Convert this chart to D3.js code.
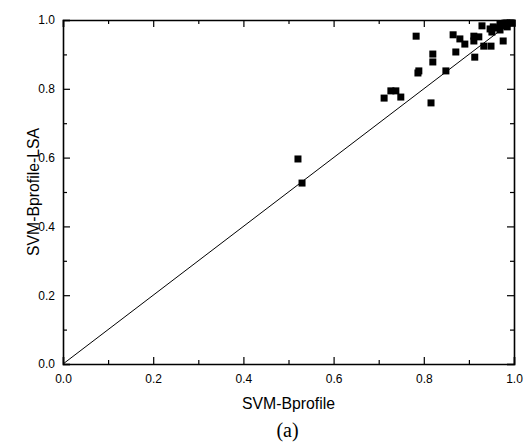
<!DOCTYPE html>
<html>
<head>
<meta charset="utf-8">
<script src="https://cdn.jsdelivr.net/npm/d3@7"></script>
<style>
  body { margin: 0; background: #fff; }
  svg text { font-family: "Liberation Sans", Arial, sans-serif; }
</style>
</head>
<body>
<div id="chart"></div>
<script>
// SVM-Bprofile (x) vs SVM-Bprofile-LSA (y)
const xVals = [0.521, 0.530, 0.712, 0.727, 0.738, 0.749, 0.783, 0.787, 0.789, 0.816,
  0.820, 0.820, 0.849, 0.865, 0.871, 0.880, 0.891, 0.911, 0.911, 0.913,
  0.922, 0.929, 0.933, 0.947, 0.949, 0.951, 0.954, 0.962, 0.969, 0.973,
  0.976, 0.976, 0.980, 0.984, 0.991, 0.996, 0.969, 0.985];
const yVals = [0.596, 0.526, 0.773, 0.794, 0.794, 0.776, 0.953, 0.846, 0.852, 0.759,
  0.901, 0.878, 0.852, 0.957, 0.907, 0.945, 0.930, 0.953, 0.939, 0.892,
  0.951, 0.983, 0.924, 0.974, 0.924, 0.965, 0.980, 0.977, 0.971, 0.986,
  0.939, 0.983, 0.991, 0.991, 0.991, 0.991, 0.988, 0.980];
const majorTicks = [0.0, 0.2, 0.4, 0.6, 0.8, 1.0];
const minorTicks = [0.1, 0.3, 0.5, 0.7, 0.9];
const xTitle = "SVM-Bprofile";
const yTitle = "SVM-Bprofile-LSA";
const caption = "(a)";

const W = 524, H = 443;
const margin = { top: 20, right: 10, bottom: 79, left: 63 };
const width = W - margin.left - margin.right;
const height = H - margin.top - margin.bottom;

const svg = d3.select("#chart").append("svg")
  .attr("width", W).attr("height", H);
const g = svg.append("g")
  .attr("transform", "translate(" + margin.left + "," + margin.top + ")");

const x = d3.scaleLinear().domain([0, 1]).range([0, width]);
const y = d3.scaleLinear().domain([0, 1]).range([height, 0]);

const fmt = d3.format(".1f");
const majLen = 7, minLen = 4;

// inward ticks on all four sides
function side(axisFn, scale, transform, pad) {
  const a = g.append("g").attr("transform", transform);
  a.call(axisFn(scale).tickValues(majorTicks).tickSize(-majLen)
    .tickFormat(pad ? fmt : "").tickPadding(pad || 0));
  a.append("g").call(axisFn(scale).tickValues(minorTicks).tickSize(-minLen).tickFormat(""))
    .select(".domain").remove();
  a.selectAll("line").attr("stroke", "#000").attr("stroke-width", 1.2);
  a.selectAll(".domain").attr("stroke", "#000").attr("stroke-width", 1.6);
  a.selectAll("text").attr("font-size", 12).attr("fill", "#000");
  return a;
}
side(d3.axisBottom, x, "translate(0," + height + ")", 10);
side(d3.axisLeft, y, "translate(0,0)", 8);
side(d3.axisTop, x, "translate(0,0)", 0);
side(d3.axisRight, y, "translate(" + width + ",0)", 0);

// diagonal y = x
g.append("line")
  .attr("x1", x(0)).attr("y1", y(0))
  .attr("x2", x(1)).attr("y2", y(1))
  .attr("stroke", "#000").attr("stroke-width", 1);

const pts = xVals.map((v, i) => ({ x: v, y: yVals[i] }));
const s = 7;
g.selectAll("rect.pt").data(pts).enter().append("rect")
  .attr("class", "pt")
  .attr("x", d => x(d.x) - s / 2)
  .attr("y", d => y(d.y) - s / 2)
  .attr("width", s).attr("height", s)
  .attr("fill", "#000");

svg.append("text")
  .attr("x", margin.left + width / 2).attr("y", 409)
  .attr("text-anchor", "middle").attr("font-size", 15.8)
  .text(xTitle);

svg.append("text")
  .attr("transform", "translate(39," + (margin.top + height / 2) + ") rotate(-90)")
  .attr("text-anchor", "middle").attr("font-size", 15.8)
  .text(yTitle);

svg.append("text")
  .attr("x", margin.left + width / 2 - 1).attr("y", 437)
  .attr("text-anchor", "middle").attr("font-size", 20)
  .style("font-family", "'Liberation Serif', 'Times New Roman', serif")
  .text(caption);
</script>
</body>
</html>
